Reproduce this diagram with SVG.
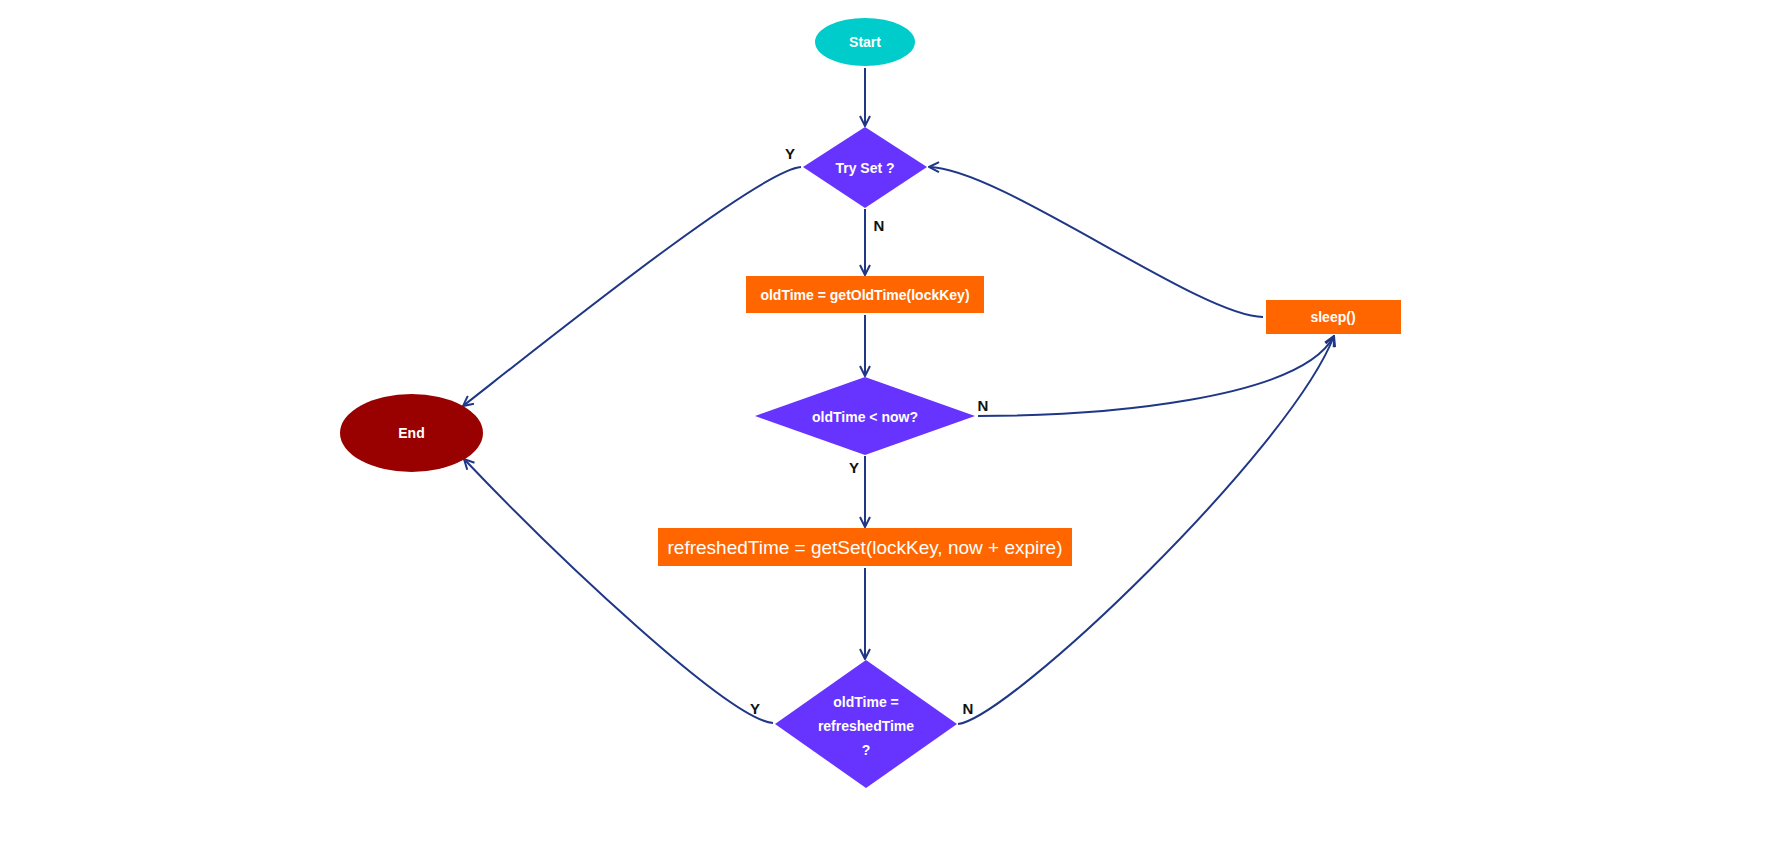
<svg xmlns="http://www.w3.org/2000/svg" width="1790" height="857" viewBox="0 0 1790 857">
<defs>
<style>
.conn{fill:none;stroke:#1f3786;stroke-width:2}
.t{font-family:"Liberation Sans",Arial,sans-serif;font-weight:bold;font-size:14px;fill:#ffffff;text-anchor:middle;dominant-baseline:central}
.t2{font-family:"Liberation Sans",Arial,sans-serif;font-size:19px;fill:#ffffff;text-anchor:middle;dominant-baseline:central}
.lbl{font-family:"Liberation Sans",Arial,sans-serif;font-weight:bold;font-size:15px;fill:#111111;text-anchor:middle;dominant-baseline:central}
.dia{fill:#6633ff}
.box{fill:#ff6600}
</style>
<marker id="arr" viewBox="0 0 12 12" refX="11" refY="6" markerWidth="12" markerHeight="12" markerUnits="userSpaceOnUse" orient="auto">
<path d="M1,1 L11,6 L1,11" fill="none" stroke="#1f3786" stroke-width="2"/>
</marker>
</defs>
<rect width="1790" height="857" fill="#ffffff"/>
<g id="connectors">
<path class="conn" d="M865,68 L865,126" marker-end="url(#arr)"/>
<path class="conn" d="M865,209 L865,275" marker-end="url(#arr)"/>
<path class="conn" d="M865,315 L865,376" marker-end="url(#arr)"/>
<path class="conn" d="M865,456 L865,527" marker-end="url(#arr)"/>
<path class="conn" d="M865,568 L865,659" marker-end="url(#arr)"/>
<path class="conn" d="M801,167 C760,170 560,330 463,406" marker-end="url(#arr)"/>
<path class="conn" d="M773,723 C730,720 560,560 464,459" marker-end="url(#arr)"/>
<path class="conn" d="M1263,317 C1200,317 1000,168 929,167" marker-end="url(#arr)"/>
<path class="conn" d="M978,416 C1100,416 1300,400 1334,336" marker-end="url(#arr)"/>
<path class="conn" d="M958,724 C1010,718 1290,450 1334,336" marker-end="url(#arr)"/>
<text class="lbl" x="790" y="153">Y</text>
<text class="lbl" x="879" y="225">N</text>
<text class="lbl" x="983" y="405">N</text>
<text class="lbl" x="854" y="467">Y</text>
<text class="lbl" x="755" y="708">Y</text>
<text class="lbl" x="968" y="708">N</text>
</g>
<g id="start">
<ellipse cx="865" cy="42" rx="50" ry="24" fill="#00cccc"/>
<text class="t" x="865" y="42">Start</text>
</g>
<g id="trySet">
<polygon class="dia" points="865,127 927,167 865,208 803,167"/>
<text class="t" x="865" y="168">Try Set ?</text>
</g>
<g id="getOldTime">
<rect class="box" x="746" y="276" width="238" height="37"/>
<text class="t" x="865" y="295">oldTime = getOldTime(lockKey)</text>
</g>
<g id="oldLessNow">
<polygon class="dia" points="865,377 975,416 865,455 755,416"/>
<text class="t" x="865" y="417">oldTime &lt; now?</text>
</g>
<g id="getSet">
<rect class="box" x="658" y="528" width="414" height="38"/>
<text class="t2" x="865" y="547">refreshedTime = getSet(lockKey, now + expire)</text>
</g>
<g id="equalCheck">
<polygon class="dia" points="866,660 957,724 866,788 775,724"/>
<text class="t" x="866" y="702">oldTime =</text>
<text class="t" x="866" y="726">refreshedTime</text>
<text class="t" x="866" y="750">?</text>
</g>
<g id="sleep">
<rect class="box" x="1266" y="300" width="135" height="34"/>
<text class="t" x="1333" y="317">sleep()</text>
</g>
<g id="end">
<ellipse cx="411.5" cy="433" rx="71.5" ry="39" fill="#990000"/>
<text class="t" x="411.5" y="433">End</text>
</g>
</svg>
